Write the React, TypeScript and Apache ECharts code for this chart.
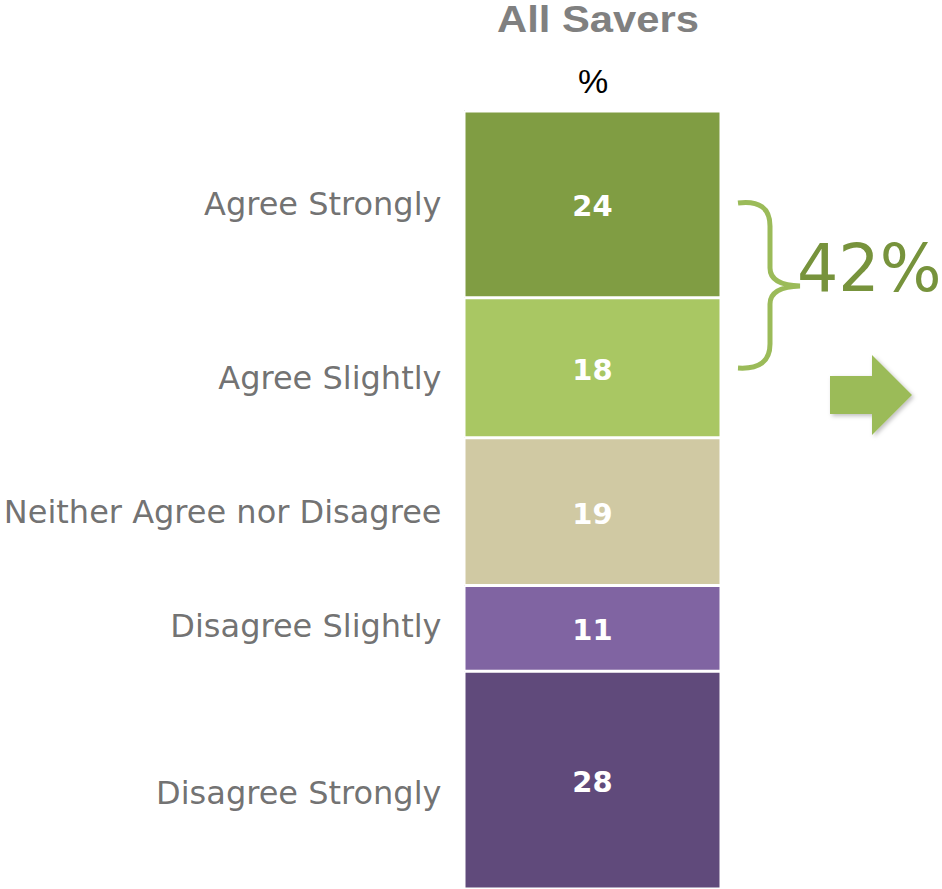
import React, { useEffect, useRef } from "react";
import * as echarts from "echarts";

const categories = ["Agree Strongly", "Agree Slightly", "Neither Agree nor Disagree", "Disagree Slightly", "Disagree Strongly"];
const values = [24, 18, 19, 11, 28];
const colors = ["#809d43", "#a9c763", "#d0c9a3", "#8064a2", "#604a7b"];
const groupName = "All Savers";
const unitLabel = "%";
const netAgree = "42%";

echarts.graphic.registerShape(
  "brace",
  echarts.graphic.extendPath(
    "M738,203 Q770,199 770,226 L770,268 Q770,285 800,286 Q770,287 770,304 L770,344 Q770,370 738,368",
    {}
  )
);

// small vertical nudges of the category labels, as in the original layout
const labelNudge = [0, 10, 0, -2, 13];

export default function App() {
  const ref = useRef<HTMLDivElement>(null);
  useEffect(() => {
    const chart = echarts.init(ref.current!, null, { renderer: "svg" });
    let cum = 0;
    const mids = values.map((v) => {
      const m = cum + v / 2;
      cum += v;
      return m;
    });
    const barSeries = values.map((v, i) => ({
      type: "bar",
      name: categories[i],
      stack: "total",
      barWidth: "100%",
      data: [v],
      itemStyle: { color: colors[i], borderColor: "#ffffff", borderWidth: 1.5 },
      label: {
        show: true,
        position: "inside",
        color: "#ffffff",
        fontFamily: "DejaVu Sans",
        fontWeight: "bold",
        fontSize: 29,
        formatter: "{c}",
        offset: [0, 2],
      },
    }));
    const nameSeries = {
      type: "scatter",
      symbolSize: 0,
      data: mids.map((m, i) => ({
        value: [0, m],
        name: categories[i],
        label: { offset: [0, labelNudge[i]] },
      })),
      label: {
        show: true,
        position: "left",
        distance: 151,
        formatter: "{b}",
        color: "#4d4d4d",
        fontFamily: "DejaVu Sans",
        fontSize: 32,
      },
      silent: true,
    };
    chart.setOption({
      animation: false,
      grid: { left: 464, top: 111, width: 257, bottom: 0, containLabel: false },
      xAxis: {
        type: "category",
        data: [groupName],
        show: false,
      },
      yAxis: {
        type: "value",
        min: 0,
        max: 100,
        inverse: true,
        axisLabel: { show: false },
        axisTick: { show: false },
        splitLine: { show: false },
        axisLine: { show: true, lineStyle: { color: "#c8c8c8", width: 1 } },
      },
      series: [...barSeries, nameSeries],
      graphic: [
        {
          type: "text",
          x: 598,
          y: 20,
          scaleX: 1.16,
          originX: 0,
          originY: 0,
          style: {
            text: groupName,
            fill: "#808080",
            font: "bold 36px 'Liberation Sans', Arial, sans-serif",
            textAlign: "center",
            textVerticalAlign: "middle",
          },
        },
        {
          type: "text",
          x: 593,
          y: 81,
          style: {
            text: unitLabel,
            fill: "#000000",
            font: "34px 'Liberation Sans', Arial, sans-serif",
            textAlign: "center",
            textVerticalAlign: "middle",
          },
        },
        {
          type: "brace",
          x: 0,
          y: 0,
          style: { fill: "none", stroke: "#9bbb59", lineWidth: 5 },
        },
        {
          type: "text",
          x: 797,
          y: 268,
          style: {
            text: netAgree,
            fill: "#77933c",
            font: "65px 'DejaVu Sans', sans-serif",
            textAlign: "left",
            textVerticalAlign: "middle",
          },
        },
        {
          type: "polygon",
          shape: {
            points: [
              [830, 376],
              [872, 376],
              [872, 355],
              [912, 395],
              [872, 435],
              [872, 414],
              [830, 414],
            ],
          },
          style: { fill: "#9bbb59", shadowBlur: 4, shadowColor: "rgba(0,0,0,0.25)", shadowOffsetX: 2, shadowOffsetY: 2 },
        },
      ],
    });
    return () => chart.dispose();
  }, []);
  return (
    <div
      ref={ref}
      style={{ position: "absolute", left: 0, top: 0, width: 942, height: 889 }}
    />
  );
}
